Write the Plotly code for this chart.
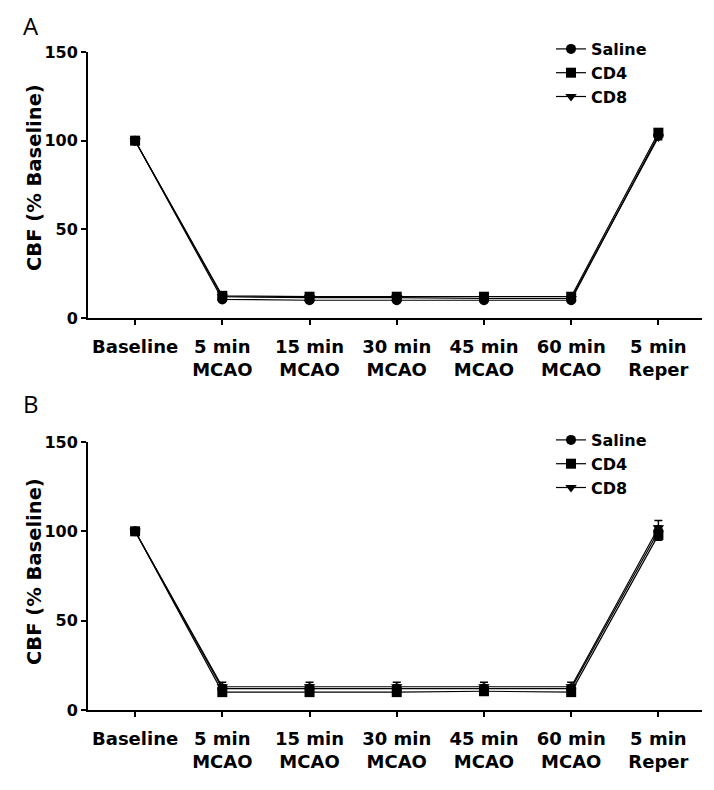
import plotly.graph_objects as go

W, H = 714, 790
OFF = 8  # default body margin of the written page

categories = ["Baseline", "5 min<br>MCAO", "15 min<br>MCAO", "30 min<br>MCAO",
              "45 min<br>MCAO", "60 min<br>MCAO", "5 min<br>Reper"]
series_names = ["Saline", "CD4", "CD8"]
symbols = ["circle", "square", "triangle-down"]

# Panel A values
a_saline = [100, 10.5, 10, 10, 10, 10, 103]
a_cd4 = [100, 12.5, 12, 12, 12, 12, 104.5]
a_cd8 = [100, 12, 11.5, 11.5, 11, 11, 102]
a_err_saline = [0, 1, 1, 1, 1, 1, 1.5]
a_err_cd4 = [0, 1, 1, 1, 1, 1, 1.5]
a_err_cd8 = [0, 1, 1, 1, 1, 1, 1.5]

# Panel B values
b_saline = [100, 12, 12, 12, 12, 12, 100]
b_cd4 = [100, 10, 10, 10, 10.5, 10, 98]
b_cd8 = [100, 13, 13, 13, 13, 13, 102]
b_err_saline = [0, 2, 2, 2, 2, 2, 3]
b_err_cd4 = [0, 2, 2, 2, 2, 2, 3]
b_err_cd8 = [0, 2.5, 2.5, 2.5, 2.5, 2.5, 4]

y_ticks = [0, 50, 100, 150]

xpos = list(range(len(categories)))

fig = go.Figure()

panels = [
    ("x", "y", "legend", [a_saline, a_cd4, a_cd8], [a_err_saline, a_err_cd4, a_err_cd8]),
    ("x2", "y2", "legend2", [b_saline, b_cd4, b_cd8], [b_err_saline, b_err_cd4, b_err_cd8]),
]

for xa, ya, lg, vals, errs in panels:
    for name, sym, v, e in zip(series_names, symbols, vals, errs):
        fig.add_trace(go.Scatter(
            x=xpos, y=v, name=name, xaxis=xa, yaxis=ya, legend=lg,
            mode="lines+markers",
            line=dict(color="black", width=1.2),
            marker=dict(symbol=sym, size=10, color="black"),
            error_y=dict(type="data", array=e, visible=True, color="black",
                         thickness=1.5, width=4),
        ))


def px_x(p):
    return (p - OFF) / W


def px_y(p):
    return 1 - (p - OFF) / H


FONT = "DejaVu Sans, Liberation Sans, sans-serif"

axis_common = dict(showline=True, linecolor="black", linewidth=2,
                   ticks="outside", tickcolor="black", ticklen=5, tickwidth=2,
                   showgrid=False, zeroline=False, mirror=False)

xfont = dict(family=FONT, size=18, color="black", weight="bold")
yfont = dict(family=FONT, size=16, color="black", weight="bold")

xr = [-0.54, 6.5]

legend_font = dict(family=FONT, size=16, color="black", weight="bold")

fig.update_layout(
    width=W, height=H,
    margin=dict(l=0, r=0, t=0, b=0, autoexpand=False),
    paper_bgcolor="white", plot_bgcolor="white",
    font=dict(family=FONT, color="black"),
    xaxis=dict(domain=[px_x(88), px_x(702)], anchor="y", range=xr,
               tickvals=xpos, ticktext=categories, tickfont=xfont,
               ticklabelstandoff=6, **axis_common),
    yaxis=dict(domain=[px_y(318), px_y(52)], anchor="x", range=[0, 150],
               tickvals=y_ticks, tickfont=yfont, ticklabelstandoff=0, **axis_common),
    xaxis2=dict(domain=[px_x(88), px_x(702)], anchor="y2", range=xr,
                tickvals=xpos, ticktext=categories, tickfont=xfont,
                ticklabelstandoff=6, **axis_common),
    yaxis2=dict(domain=[px_y(710), px_y(442)], anchor="x2", range=[0, 150],
                tickvals=y_ticks, tickfont=yfont, ticklabelstandoff=0, **axis_common),
    legend=dict(x=px_x(551), y=px_y(32), xanchor="left", yanchor="top",
                bgcolor="rgba(0,0,0,0)", tracegroupgap=0, itemwidth=30,
                font=legend_font),
    legend2=dict(x=px_x(551), y=px_y(423), xanchor="left", yanchor="top",
                 bgcolor="rgba(0,0,0,0)", tracegroupgap=0, itemwidth=30,
                 font=legend_font),
    showlegend=True,
)

annotations = [
    dict(text="A", x=px_x(31), y=px_y(25), xref="paper", yref="paper",
         xanchor="center", yanchor="middle", showarrow=False,
         font=dict(family="Open Sans, sans-serif", size=24, color="black")),
    dict(text="B", x=px_x(31), y=px_y(403), xref="paper", yref="paper",
         xanchor="center", yanchor="middle", showarrow=False,
         font=dict(family="Open Sans, sans-serif", size=24, color="black")),
    dict(text="CBF (% Baseline)", x=px_x(34), y=px_y(178), xref="paper", yref="paper",
         xanchor="center", yanchor="middle", textangle=-90, showarrow=False,
         font=dict(family=FONT, size=19.5, color="black", weight="bold")),
    dict(text="CBF (% Baseline)", x=px_x(34), y=px_y(572), xref="paper", yref="paper",
         xanchor="center", yanchor="middle", textangle=-90, showarrow=False,
         font=dict(family=FONT, size=19.5, color="black", weight="bold")),
]
fig.update_layout(annotations=annotations)

fig.write_html("out.html")
